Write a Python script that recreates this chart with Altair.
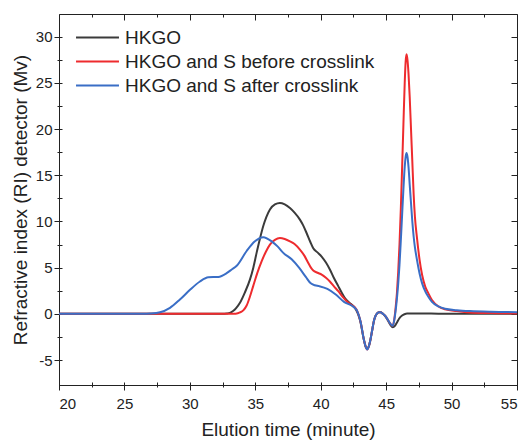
import altair as alt
import pandas as pd

# ---------------- data ----------------
series_names = ["HKGO", "HKGO and S before crosslink", "HKGO and S after crosslink"]
series_colors = ["#3b3b3b", "#ee2b2e", "#3a6ec6"]

black_t = [20, 25, 30, 32.5, 32.8, 33.06, 33.3, 33.55, 33.83, 34.2, 34.59, 34.85, 35.1, 35.35,
           35.61, 35.85, 36.12, 36.5, 36.88, 37.25, 37.65, 38.0, 38.41, 38.65, 38.92, 39.2,
           39.43, 39.75, 40.07, 40.4, 40.7, 41.0, 41.34, 41.6, 41.85, 42.15, 42.48, 42.7,
           42.87, 43.04, 43.3, 43.45, 43.55, 43.68, 43.8, 43.93, 44.06, 44.18, 44.31, 44.45,
           44.57, 44.75, 44.95, 45.15, 45.33, 45.51, 45.67, 45.84, 46.0, 46.22, 46.4, 46.6,
           47.5, 49.0, 52.0, 55.0]
black_v = [0, 0, 0, 0, 0.03, 0.1, 0.3, 0.65, 1.2, 2.3, 3.7, 5.0, 6.6, 8.1,
           9.5, 10.5, 11.3, 11.85, 12.0, 11.85, 11.45, 10.95, 10.2, 9.6, 8.75, 7.8,
           7.1, 6.65, 6.2, 5.55, 4.8, 3.9, 3.0, 2.3, 1.7, 1.25, 0.85, 0.45,
           -0.1, -0.9, -2.8, -3.6, -3.8, -3.5, -2.8, -1.8, -0.8, -0.25, 0.05, 0.17,
           0.18, 0.0, -0.3, -0.75, -1.2, -1.45, -1.3, -0.9, -0.5, -0.18, -0.04, 0.03,
           0.03, 0.02, 0.01, 0.0]

red_t = [20, 25, 30, 33.0, 33.5, 33.83, 34.1, 34.34, 34.6, 34.84, 35.15, 35.49, 35.8, 36.12,
         36.5, 36.88, 37.25, 37.65, 38.0, 38.41, 38.75, 39.05, 39.25, 39.43, 39.75, 40.07,
         40.4, 40.7, 41.0, 41.34, 41.65, 41.98, 42.3, 42.6, 42.79, 43.04, 43.3, 43.45,
         43.55, 43.68, 43.8, 43.93, 44.06, 44.18, 44.31, 44.45, 44.57, 44.75, 44.95, 45.15,
         45.33, 45.5, 45.62, 45.72, 45.82, 45.92, 46.02, 46.12, 46.22, 46.32, 46.42, 46.49,
         46.56, 46.63, 46.71, 46.8, 46.9, 47.0, 47.1, 47.2, 47.35, 47.55, 47.75, 48.0,
         48.2, 48.5, 49.0, 49.5, 50.4, 51.4, 53.0, 55.0]
red_v = [0, 0, 0, 0, 0.02, 0.15, 0.4, 0.9, 1.9, 3.0, 4.4, 5.7, 6.7, 7.5,
         8.0, 8.2, 8.1, 7.85, 7.55, 6.95, 6.3, 5.5, 5.0, 4.7, 4.45, 4.25,
         3.9, 3.5, 3.0, 2.45, 1.9, 1.36, 1.0, 0.72, 0.3, -0.8, -2.8, -3.6,
         -3.85, -3.5, -2.8, -1.8, -0.8, -0.25, 0.05, 0.17, 0.18, 0.0, -0.25, -0.7,
         -1.1, -1.3, -0.6, 0.6, 2.2, 4.5, 7.5, 11.3, 15.8, 20.5, 25.0, 27.3,
         28.1, 27.5, 26.0, 23.5, 20.0, 16.5, 13.0, 10.5, 8.3, 5.9, 4.2, 2.9,
         2.3, 1.5, 0.8, 0.5, 0.3, 0.15, 0.08, 0.05]

blue_t = [20, 25, 26.5, 26.95, 27.72, 28.48, 29.24, 30.01, 30.77, 31.41, 32.17, 32.81, 33.2,
          33.58, 34.34, 34.97, 35.61, 36.25, 36.7, 37.14, 37.78, 38.36, 38.86, 39.24, 39.55,
          39.88, 40.51, 41.15, 41.78, 42.42, 42.6, 42.79, 43.04, 43.3, 43.45, 43.55, 43.68,
          43.8, 43.93, 44.06, 44.18, 44.31, 44.45, 44.57, 44.75, 44.95, 45.15, 45.33, 45.5,
          45.62, 45.72, 45.82, 45.92, 46.02, 46.12, 46.22, 46.32, 46.42, 46.49, 46.56, 46.63,
          46.71, 46.8, 46.9, 47.0, 47.1, 47.2, 47.35, 47.55, 47.75, 48.0, 48.2, 48.5, 49.0,
          49.5, 50.4, 51.4, 53.0, 55.0]
blue_v = [0, 0, 0, 0.03, 0.17, 0.65, 1.55, 2.6, 3.5, 3.96, 4.0, 4.4, 4.8,
          5.2, 6.8, 7.85, 8.3, 7.85, 7.3, 6.6, 5.9, 4.97, 4.0, 3.3, 3.1,
          3.0, 2.7, 2.09, 1.3, 0.85, 0.65, 0.3, -0.8, -2.8, -3.6, -3.85, -3.5,
          -2.8, -1.8, -0.8, -0.25, 0.05, 0.17, 0.18, 0.0, -0.25, -0.7, -1.1, -1.3,
          -0.7, 0.3, 1.6, 3.2, 5.3, 7.9, 10.7, 13.5, 15.9, 17.0, 17.4, 17.0,
          15.9, 14.0, 12.0, 10.0, 8.4, 7.2, 5.9, 4.4, 3.3, 2.4, 1.9, 1.3, 0.8,
          0.55, 0.4, 0.3, 0.22, 0.18]

x_major = [20, 25, 30, 35, 40, 45, 50, 55]
x_minor = [22.5, 27.5, 32.5, 37.5, 42.5, 47.5, 52.5]
y_major = [-5, 0, 5, 10, 15, 20, 25, 30]
y_minor = [-2.5, 2.5, 7.5, 12.5, 17.5, 22.5, 27.5]

x_title = "Elution time (minute)"
y_title = "Refractive index (RI) detector (Mv)"

# ---------------- table ----------------
rows = []
for name, ts, vs in zip(series_names, [black_t, red_t, blue_t], [black_v, red_v, blue_v]):
    for t, v in zip(ts, vs):
        rows.append({"time": t, "signal": v, "series": name})
df = pd.DataFrame(rows)

FONT = "Liberation Sans"
INK = "#222222"

x_scale = alt.Scale(domain=[20, 55], nice=False, zero=False)
y_scale = alt.Scale(domain=[-7.7, 32.45], nice=False, zero=False)

label_expr = "datum.value < 0 ? '-' + format(-datum.value, 'd') : format(datum.value, 'd')"


def ax(**kw):
    base = dict(grid=False, domain=False, tickColor=INK, tickWidth=1)
    base.update(kw)
    return alt.Axis(**base)


def plain(orient, values, offset, size):
    return ax(orient=orient, values=values, offset=offset, tickSize=size, labels=False, title=None)


x_bottom = ax(orient="bottom", values=x_major, offset=-3, tickSize=8, labelPadding=6,
              labelFont=FONT, labelFontSize=15, labelColor=INK, labelExpr=label_expr,
              title=x_title, titleFont=FONT, titleFontSize=19, titleFontWeight="normal",
              titleColor=INK, titlePadding=9)
y_left = ax(orient="left", values=y_major, offset=-3, tickSize=8, labelPadding=2,
            labelFont=FONT, labelFontSize=15, labelColor=INK, labelExpr=label_expr,
            title=y_title, titleFont=FONT, titleFontSize=19, titleFontWeight="normal",
            titleColor=INK, titlePadding=5)

legend = alt.Legend(orient="none", legendX=17, legendY=14, title=None, padding=0,
                    symbolType="M-3,0H3", symbolSize=205, symbolStrokeWidth=2,
                    symbolOffset=12, labelOffset=18, rowPadding=4,
                    labelFont=FONT, labelFontSize=19, labelColor=INK, labelLimit=400)

lines = alt.Chart(df).mark_line(strokeWidth=2, interpolate="monotone").encode(
    x=alt.X("time:Q", scale=x_scale, axis=x_bottom),
    y=alt.Y("signal:Q", scale=y_scale, axis=y_left),
    color=alt.Color("series:N", scale=alt.Scale(domain=series_names, range=series_colors),
                    legend=legend),
)


def ghost(xaxis, yaxis):
    return alt.Chart(df).mark_line(opacity=0).encode(
        x=alt.X("time:Q", scale=x_scale, axis=xaxis),
        y=alt.Y("signal:Q", scale=y_scale, axis=yaxis),
        detail="series:N",
    )


chart = alt.layer(
    lines,
    ghost(plain("bottom", x_minor, -3, 5), plain("left", y_minor, -3, 5)),
    ghost(plain("top", x_major, -6, 6), plain("right", y_major, -6, 6)),
    ghost(plain("top", x_minor, -3, 3), plain("right", y_minor, -3, 3)),
).resolve_axis(x="independent", y="independent").properties(
    width=458, height=371,
    padding={"left": 59, "top": 14, "right": 10, "bottom": 55},
    autosize=alt.AutoSizeParams(type="none"),
    background="white",
).configure_view(stroke=INK, strokeWidth=1)

chart.save("out.html", embed_options={"renderer": "svg", "actions": False})
